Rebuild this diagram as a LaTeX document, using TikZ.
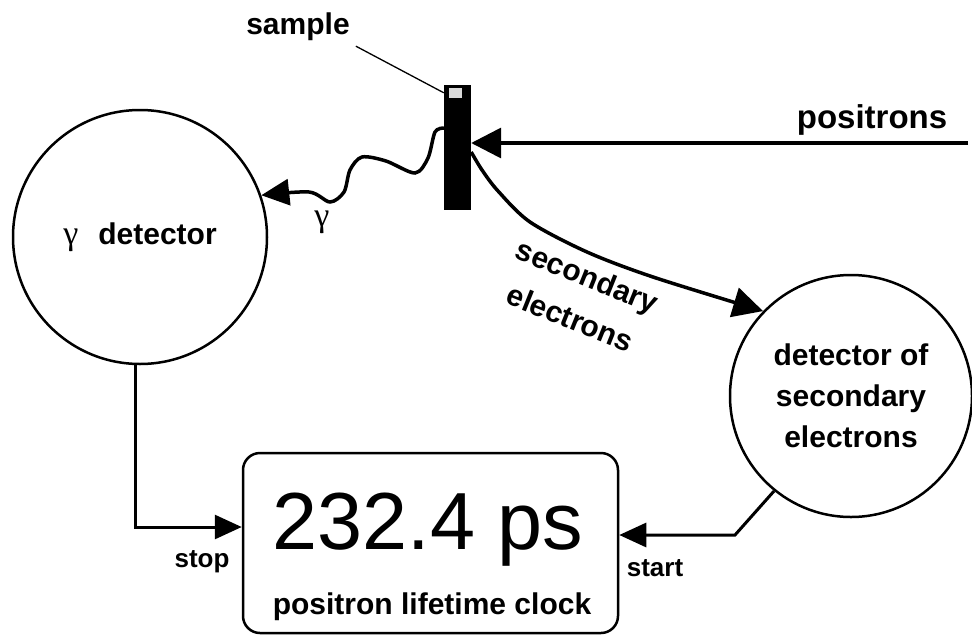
\documentclass[tikz,border=0pt]{standalone}
\usepackage{fontspec}
\setmainfont{Liberation Sans}
\newfontfamily\greekfont{Liberation Serif}
\usetikzlibrary{arrows.meta}
\usetikzlibrary{positioning}

\tikzset{
  detector/.style={draw, circle, line width=2.5pt, inner sep=0pt, align=center,
    font=\bfseries\fontsize{30}{41}\selectfont},
  tag/.style={inner sep=0pt, font=\bfseries\fontsize{30}{45}\selectfont},
  small tag/.style={inner sep=0pt, font=\bfseries\fontsize{26}{30}\selectfont},
  beam/.style={line width=3.5pt, -{Triangle[length=30pt,width=30pt]}},
  wire/.style={line width=3pt, -{Triangle[length=27pt,width=24pt]}},
}

\begin{document}
\begin{tikzpicture}[x=1pt,y=-1pt]
    \useasboundingbox (0,0) rectangle (972,635);

    \node[detector, minimum size=254pt] (gdet) at (140,237) {{\greekfont\mdseries\fontsize{34}{41}\selectfont γ}\hspace{20pt}detector};
    \node[detector, minimum size=242pt] (edet) at (851,396) {detector of\\secondary\\electrons};

    \node[draw, line width=2.5pt, rounded corners=17pt, minimum width=375pt, minimum height=180pt] (clock) at (430.5,543) {};
    \node[inner sep=0pt, font=\fontsize{81}{81}\selectfont] (reading) at (428,530) {232.4 ps};
    \node[tag] (clockname) at (432,607) {positron lifetime clock};

    \node[fill=black, minimum width=27pt, minimum height=125pt, inner sep=0pt] (sample) at (457.5,147.5) {};
    \node[fill=gray!30, minimum width=13pt, minimum height=10pt, inner sep=0pt] (spot) at (455,93) {};
    \node[tag] (samplename) at (298,27) {sample};
    \draw[line width=1.3pt] ([shift={(6pt,-5pt)}]samplename.south east) -- ([yshift=-8pt]sample.north west);

    % positron beam
    \coordinate (source) at (968,143);
    \draw[beam] (source) -- (sample.east |- source);
    \node[tag, font=\bfseries\fontsize{33}{40}\selectfont] (positronname) at (872,120) {positrons};

    % gamma quantum
    \coordinate (gstart) at (sample.west |- 0,128);
    \draw[line width=3.5pt, -{Triangle[length=28pt,width=26pt]}] plot[smooth] coordinates {(gstart) (435,132) (428,158) (415,173) (386,161) (362,157) (350,170) (344,192) (330,202) (309,192) (gdet.19)};
    \node[inner sep=0pt, font=\greekfont\fontsize{34}{34}\selectfont] (gammaname) at (322,222) {γ};

    % secondary electrons
    \coordinate (estart) at (sample.east |- 0,152);
    \draw[beam] plot[smooth] coordinates {(estart) (482,170) (498,191) (530,222) (587,252) (653,277) (edet.136)};
    \node[tag, rotate=-22, align=center] (electronname) at (579,297) {secondary\\electrons};

    % stop and start
    \coordinate (stopin) at (clock.west |- 0,527);
    \draw[wire] (gdet.268) |- (stopin);
    \node[small tag] (stopname) at (202,562) {stop};
    \coordinate (startbend) at (735,535);
    \draw[wire] (edet.231) -- (startbend) -- (clock.east |- startbend);
    \node[small tag] (startname) at (655,568) {start};
\end{tikzpicture}
\end{document}
